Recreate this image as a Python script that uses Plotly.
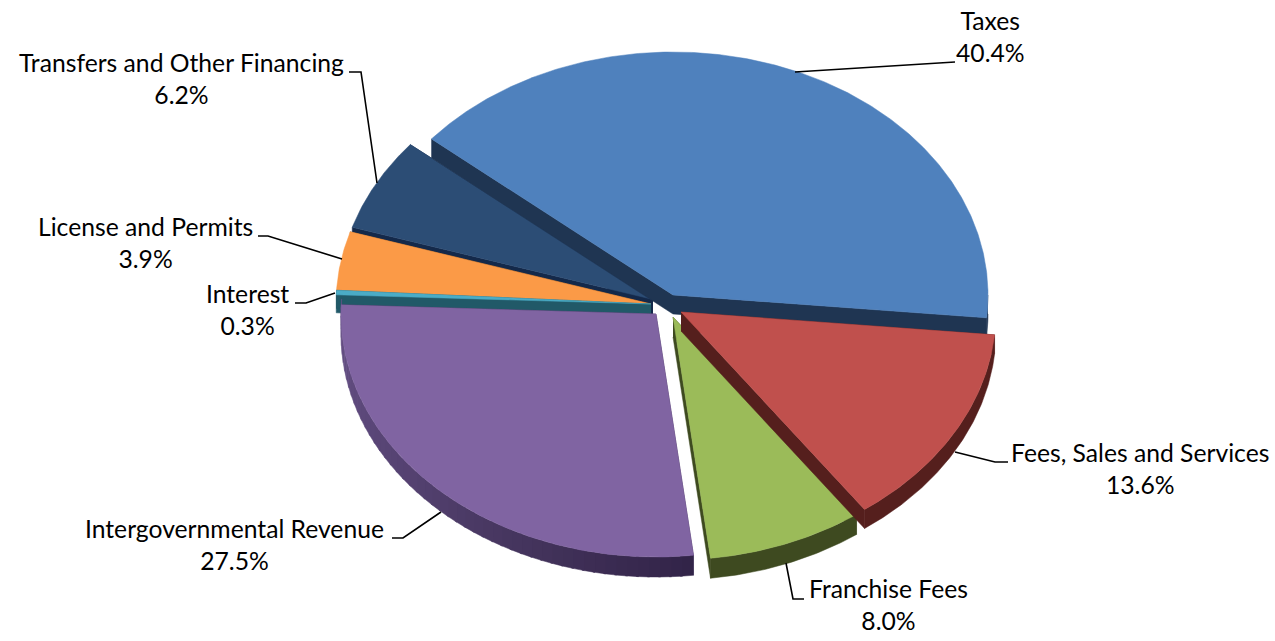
import numpy as np
import plotly.graph_objects as go

# ---- data ----
categories = ["Taxes", "Fees, Sales and Services", "Franchise Fees",
              "Intergovernmental Revenue", "Interest", "License and Permits",
              "Transfers and Other Financing"]
shares = [40.4, 13.6, 8.0, 27.5, 0.3, 3.9, 6.2]

# ---- styles ----
top_colors = ["#4F81BD", "#C0504D", "#9BBB59", "#8064A2", "#4BACC6", "#FB9A47", "#2C4D75"]
wall_colors = ["#1F3552", "#551F1D", "#3E4A20", None, "#215968", "#8A5220", "#14294A"]
apex_x = [673, 681, 673, 656, 651, 651, 653]
apex_y = [295, 312, 317, 314, 304, 304, 299.5]
depths = [19, 19, 20, 20, 18, 18, 18]
draw_order = [6, 5, 4, 0, 3, 2, 1]
RX, RY = 315, 243
START_DEG = -50.04

label_x = [990, 1140, 888, 234, 247, 145, 181]
label_y = [36, 468, 604, 544, 309, 242, 78]
leader_x = [[795, 945, 955], [955, 995, 1008], [786, 793, 804], [441, 403, 392],
            [335, 306, 295], [342, 268, 258], [377, 361, 349]]
leader_y = [[72, 62, 62], [452, 462, 462], [563, 599, 599], [512, 538, 538],
            [293, 303, 303], [259, 236, 236], [183, 72, 72]]
purple_wall_deg = [173, 200, 230, 272]
purple_wall_rgb = [(50, 36, 72), (66, 50, 90), (84, 65, 112), (104, 82, 136)]

fig = go.Figure()


def poly(xs, ys, color):
    fig.add_trace(go.Scatter(x=xs, y=ys, mode="lines", fill="toself", fillcolor=color,
                             line=dict(color=color, width=0.5), hoverinfo="skip",
                             showlegend=False))


def arc(cx, cy, t0, t1, dy=0.0):
    t = np.radians(np.linspace(t0, t1, max(int(abs(t1 - t0) * 2), 2)))
    return cx + RX * np.sin(t), cy + dy - RY * np.cos(t)


edges = START_DEG + np.concatenate([[0], np.cumsum(shares)]) * 3.6

for i in draw_order:
    cx, cy, d = apex_x[i], apex_y[i], depths[i]
    t0, t1 = edges[i], edges[i + 1]
    # side walls
    wall = wall_colors[i]
    xa, ya = arc(cx, cy, t0, t0 + 0.001)
    xb, yb = arc(cx, cy, t1, t1 + 0.001)
    wall_col = wall or "rgb(60,44,84)"
    poly([cx, xa[0], xa[0], cx], [cy, ya[0], ya[0] + d, cy + d], wall_col)
    poly([cx, xb[0], xb[0], cx], [cy, yb[0], yb[0] + d, cy + d], wall_col)
    lo, hi = max(t0, 90), min(t1, 270)
    if wall is not None and hi > lo:
        ax, ay = arc(cx, cy, lo, hi)
        bx, by = arc(cx, cy, hi, lo, d)
        poly(list(ax) + list(bx), list(ay) + list(by), wall)
    elif wall is None:
        steps = np.arange(t0, min(t1, 272), 2.0)
        for s in steps:
            frac = s + 1
            rgb = [np.interp(frac, purple_wall_deg, [c[k] for c in purple_wall_rgb]) for k in range(3)]
            col = "rgb(%d,%d,%d)" % tuple(rgb)
            ax, ay = arc(cx, cy, s, s + 2.4)
            bx, by = arc(cx, cy, s + 2.4, s, d)
            poly(list(ax) + list(bx), list(ay) + list(by), col)
    # top face
    ax, ay = arc(cx, cy, t0, t1)
    poly([cx] + list(ax) + [cx], [cy] + list(ay) + [cy], top_colors[i])

for lx, ly in zip(leader_x, leader_y):
    fig.add_trace(go.Scatter(x=lx, y=ly, mode="lines", line=dict(color="black", width=1.6),
                             hoverinfo="skip", showlegend=False))

for name, val, x, y in zip(categories, shares, label_x, label_y):
    fig.add_annotation(x=x, y=y, text=f"{name}<br>{val:.1f}%", showarrow=False,
                       xanchor="center", yanchor="middle", align="center",
                       font=dict(family="Lato", size=24.7, color="black"))

fig.update_layout(
    width=1275, height=641, margin=dict(l=0, r=0, t=0, b=0),
    paper_bgcolor="white", plot_bgcolor="white", showlegend=False,
    xaxis=dict(range=[0, 1275], visible=False, fixedrange=True),
    yaxis=dict(range=[641, 0], visible=False, fixedrange=True),
)
fig.write_html("out.html", config=dict(displayModeBar=False),
               post_script="document.body.style.margin='0';document.documentElement.style.overflow='hidden';")
